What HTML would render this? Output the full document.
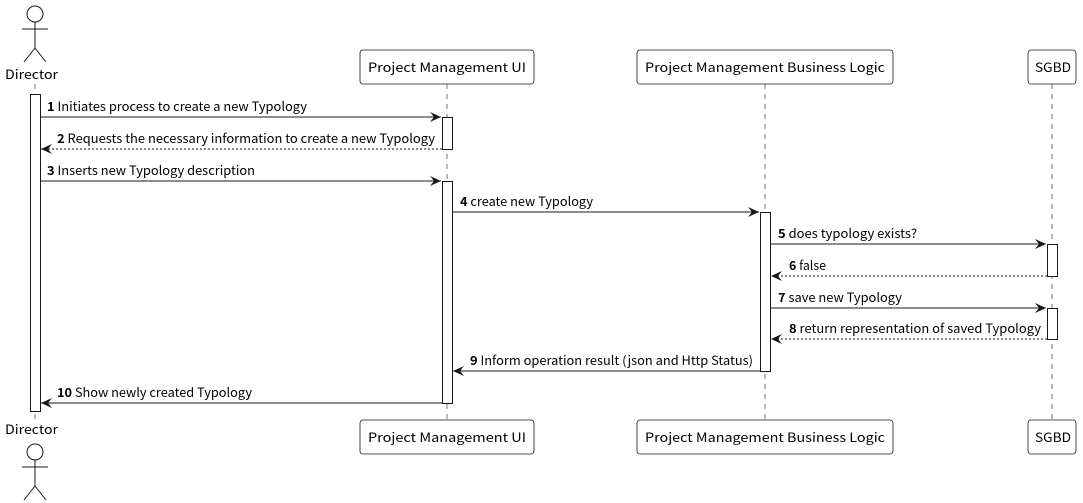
<!DOCTYPE html><html><head><style>body{margin:0;background:#fff}svg{display:block}text{font-family:"Noto Sans CJK SC","Liberation Sans",sans-serif;font-size:12.5px;fill:#000}</style></head><body>
<svg width="1083" height="503" viewBox="0 0 1083 503" xmlns="http://www.w3.org/2000/svg">
<defs><marker id="a" markerWidth="12" markerHeight="10" refX="11" refY="5" orient="auto" markerUnits="userSpaceOnUse"><path d="M0,0 L11,5 L0,10 L4,5 Z" fill="#181818"/></marker></defs>
<g stroke="#181818" stroke-width="0.6" stroke-dasharray="5,5">
<line x1="35" y1="84" x2="35" y2="420"/><line x1="447" y1="84" x2="447" y2="420"/><line x1="765" y1="84" x2="765" y2="420"/><line x1="1052" y1="84" x2="1052" y2="420"/></g>
<g fill="none" stroke="#181818" stroke-width="1">
<circle cx="35" cy="14" r="8"/><path d="M35,22V48M22,29H48M35,48L24,62M35,48L46,62"/>
<circle cx="35" cy="452" r="8"/><path d="M35,460V486M22,467H48M35,486L24,500M35,486L46,500"/></g>
<g fill="#fff" stroke="#181818" stroke-width="0.8">
<rect x="360" y="50" width="174" height="34" rx="3"/><rect x="637" y="50" width="256" height="34" rx="3"/><rect x="1028" y="50" width="48" height="34" rx="3"/>
<rect x="360" y="420" width="174" height="34" rx="3"/><rect x="637" y="420" width="256" height="34" rx="3"/><rect x="1028" y="420" width="48" height="34" rx="3"/></g>
<g fill="#fff" stroke="#181818" stroke-width="1">
<rect x="30.5" y="94.5" width="10" height="317"/><rect x="442.5" y="117.5" width="10" height="32"/><rect x="442.5" y="181.5" width="10" height="222"/>
<rect x="760.5" y="212.5" width="10" height="159"/><rect x="1047.5" y="244.5" width="10" height="32"/><rect x="1047.5" y="308.5" width="10" height="31"/></g>
<g style="font-size:14px"><text x="5" y="79" textLength="53" lengthAdjust="spacingAndGlyphs">Director</text><text x="5" y="434" textLength="53" lengthAdjust="spacingAndGlyphs">Director</text>
<text x="368" y="72" textLength="158" lengthAdjust="spacingAndGlyphs">Project Management UI</text><text x="645" y="72" textLength="240" lengthAdjust="spacingAndGlyphs">Project Management Business Logic</text><text x="1035" y="72" textLength="36" lengthAdjust="spacingAndGlyphs">SGBD</text>
<text x="368" y="442" textLength="158" lengthAdjust="spacingAndGlyphs">Project Management UI</text><text x="645" y="442" textLength="240" lengthAdjust="spacingAndGlyphs">Project Management Business Logic</text><text x="1035" y="442" textLength="36" lengthAdjust="spacingAndGlyphs">SGBD</text></g>
<g stroke="#181818" stroke-width="1" marker-end="url(#a)">
<line x1="40" y1="117" x2="441" y2="117"/><line x1="442" y1="149" x2="41" y2="149" stroke-dasharray="2,2"/>
<line x1="40" y1="181" x2="441" y2="181"/><line x1="452" y1="212" x2="759" y2="212"/>
<line x1="770" y1="244" x2="1046" y2="244"/><line x1="1047" y1="276" x2="771" y2="276" stroke-dasharray="2,2"/>
<line x1="770" y1="308" x2="1046" y2="308"/><line x1="1047" y1="339" x2="771" y2="339" stroke-dasharray="2,2"/>
<line x1="760" y1="371" x2="453" y2="371"/><line x1="442" y1="403" x2="41" y2="403"/></g>
<g style="font-size:12.5px">
<text x="47" y="111" textLength="260" lengthAdjust="spacingAndGlyphs"><tspan font-weight="bold">1</tspan> Initiates process to create a new Typology</text>
<text x="57" y="143" textLength="378" lengthAdjust="spacingAndGlyphs"><tspan font-weight="bold">2</tspan> Requests the necessary information to create a new Typology</text>
<text x="47" y="175" textLength="208" lengthAdjust="spacingAndGlyphs"><tspan font-weight="bold">3</tspan> Inserts new Typology description</text>
<text x="460" y="206" textLength="133" lengthAdjust="spacingAndGlyphs"><tspan font-weight="bold">4</tspan> create new Typology</text>
<text x="778" y="238" textLength="139" lengthAdjust="spacingAndGlyphs"><tspan font-weight="bold">5</tspan> does typology exists?</text>
<text x="789" y="270" textLength="37" lengthAdjust="spacingAndGlyphs"><tspan font-weight="bold">6</tspan> false</text>
<text x="778" y="302" textLength="124" lengthAdjust="spacingAndGlyphs"><tspan font-weight="bold">7</tspan> save new Typology</text>
<text x="789" y="333" textLength="252" lengthAdjust="spacingAndGlyphs"><tspan font-weight="bold">8</tspan> return representation of saved Typology</text>
<text x="470" y="365" textLength="283" lengthAdjust="spacingAndGlyphs"><tspan font-weight="bold">9</tspan> Inform operation result (json and Http Status)</text>
<text x="57" y="397" textLength="195" lengthAdjust="spacingAndGlyphs"><tspan font-weight="bold">10</tspan> Show newly created Typology</text></g>
</svg></body></html>
